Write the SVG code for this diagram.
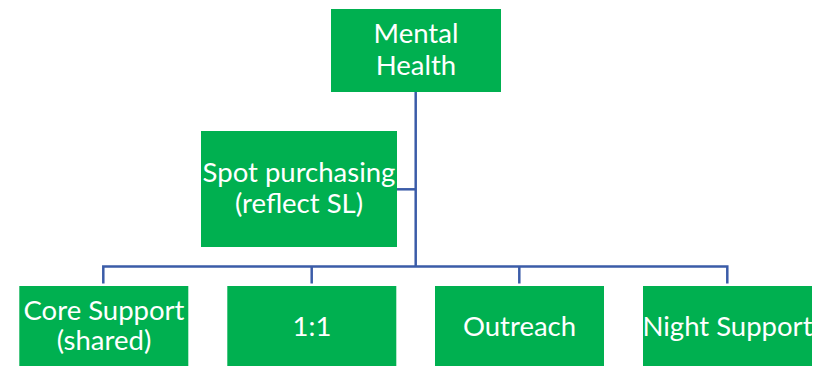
<svg xmlns="http://www.w3.org/2000/svg" width="813" height="366" viewBox="0 0 813 366">
<style>
.box{fill:#00B050}
.t{font-family:Lato,"Open Sans",sans-serif;font-size:27.5px;fill:#fff;text-anchor:middle}
.c{fill:none;stroke:#3B5CA8;stroke-width:2.5}
</style>
<rect width="813" height="366" fill="#fff"/>
<g id="connectors">
<path class="c" d="M415.7,92 V266.5"/>
<path class="c" d="M397,189.3 H415.7"/>
<path class="c" d="M103.3,283.5 V266.5 H727.3 V283.5"/>
<path class="c" d="M311.7,266.5 V283.5"/>
<path class="c" d="M519.3,266.5 V283.5"/>
</g>
<g id="mental-health">
<rect class="box" x="331" y="9" width="170" height="83"/>
<text class="t" x="416" y="43">Mental</text>
<text class="t" x="416" y="75">Health</text>
</g>
<g id="spot-purchasing">
<rect class="box" x="201" y="131" width="196" height="116"/>
<text class="t" x="299" y="181.5">Spot purchasing</text>
<text class="t" x="299" y="213">(reflect SL)</text>
</g>
<g id="core-support">
<rect class="box" x="19.3" y="286" width="169" height="83"/>
<text class="t" x="104" y="320">Core Support</text>
<text class="t" x="104" y="350">(shared)</text>
</g>
<g id="one-to-one">
<rect class="box" x="227.3" y="286" width="169" height="83"/>
<text class="t" x="312" y="336">1:1</text>
</g>
<g id="outreach">
<rect class="box" x="435" y="286" width="169" height="83"/>
<text class="t" x="519.5" y="336">Outreach</text>
</g>
<g id="night-support">
<rect class="box" x="643" y="286" width="169" height="83"/>
<text class="t" x="727.5" y="336">Night Support</text>
</g>
</svg>
